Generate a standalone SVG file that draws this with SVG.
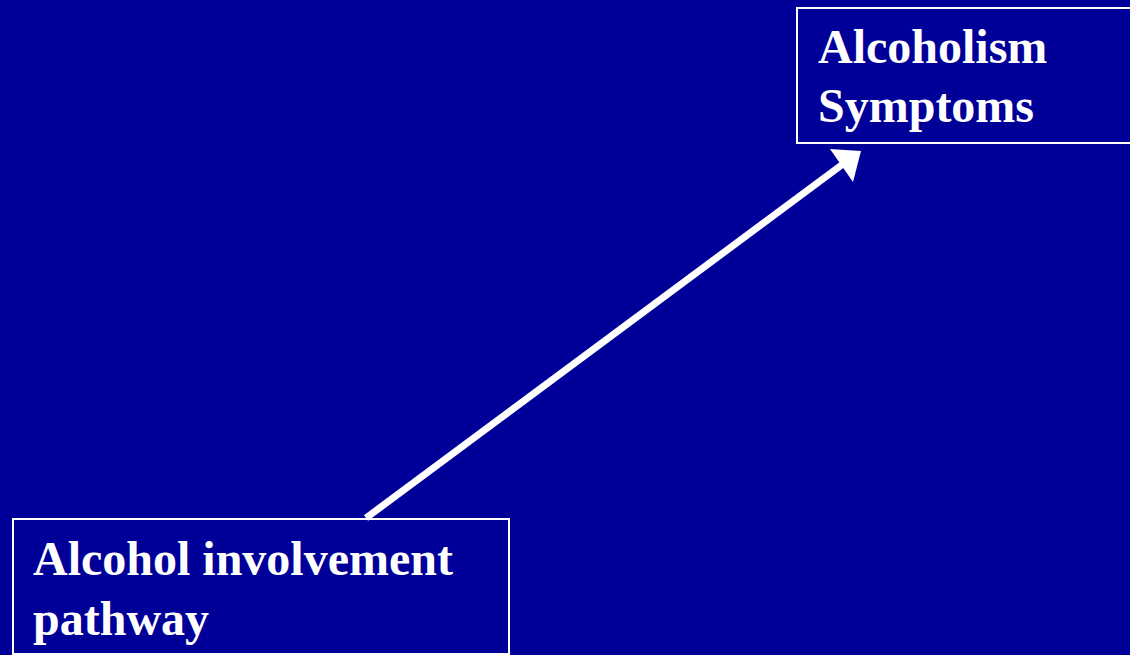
<svg xmlns="http://www.w3.org/2000/svg" width="1130" height="655" viewBox="0 0 1130 655">
<style>
.box{fill:none;stroke:#ffffff;stroke-width:2}
.lbl{font-family:"Liberation Serif","Times New Roman",serif;font-weight:bold;font-size:48px;fill:#ffffff}
</style>
<rect x="0" y="0" width="1130" height="655" fill="#000099"/>
<g id="connectors">
<line x1="366" y1="518" x2="843" y2="164" stroke="#ffffff" stroke-width="7"/>
<polygon points="861,151 830,149 853,182" fill="#ffffff"/>
</g>
<g id="node-symptoms">
<rect class="box" x="797" y="8" width="340" height="135"/>
<text class="lbl" x="818" y="63">Alcoholism</text>
<text class="lbl" x="818" y="122">Symptoms</text>
</g>
<g id="node-pathway">
<rect class="box" x="13" y="519" width="496" height="135"/>
<text class="lbl" x="33" y="575">Alcohol involvement</text>
<text class="lbl" x="33" y="635">pathway</text>
</g>
</svg>
